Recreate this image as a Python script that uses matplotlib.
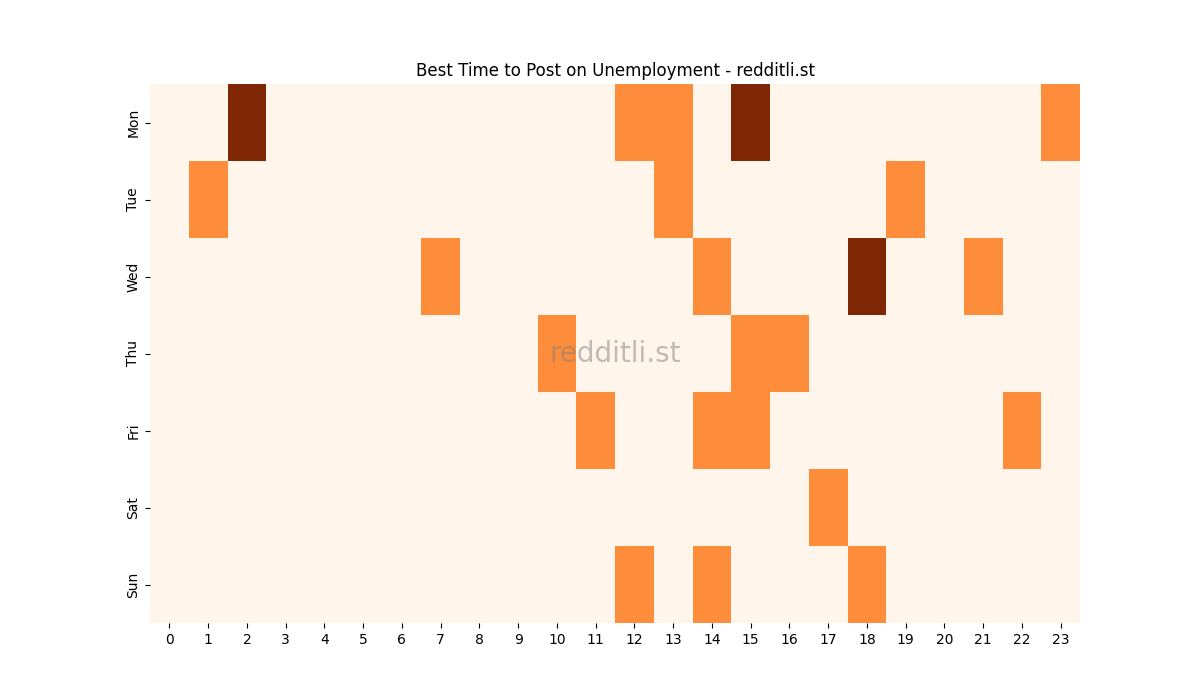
import matplotlib
matplotlib.use("Agg")
import matplotlib.pyplot as plt
import seaborn as sns
import numpy as np
import pandas as pd

days = ["Mon", "Tue", "Wed", "Thu", "Fri", "Sat", "Sun"]
hours = list(range(24))

mon = [0,0,2,0,0,0,0,0,0,0,0,0,1,1,0,2,0,0,0,0,0,0,0,1]
tue = [0,1,0,0,0,0,0,0,0,0,0,0,0,1,0,0,0,0,0,1,0,0,0,0]
wed = [0,0,0,0,0,0,0,1,0,0,0,0,0,0,1,0,0,0,2,0,0,1,0,0]
thu = [0,0,0,0,0,0,0,0,0,0,1,0,0,0,0,1,1,0,0,0,0,0,0,0]
fri = [0,0,0,0,0,0,0,0,0,0,0,1,0,0,1,1,0,0,0,0,0,0,1,0]
sat = [0,0,0,0,0,0,0,0,0,0,0,0,0,0,0,0,0,1,0,0,0,0,0,0]
sun = [0,0,0,0,0,0,0,0,0,0,0,0,1,0,1,0,0,0,1,0,0,0,0,0]

df = pd.DataFrame([mon, tue, wed, thu, fri, sat, sun], index=days, columns=hours)

fig, ax = plt.subplots(figsize=(12, 7), dpi=100)
sns.heatmap(df, cmap="Oranges", cbar=False, ax=ax)
ax.set_title("Best Time to Post on Unemployment - redditli.st")
ax.set_yticklabels(days, rotation=90, va="center")
ax.set_xticklabels([str(h) for h in hours], rotation=0)
ax.text(0.5, 0.5, "redditli.st", transform=ax.transAxes, ha="center", va="center",
        fontsize=20, color="gray", alpha=0.5)
fig.savefig("out.png")
